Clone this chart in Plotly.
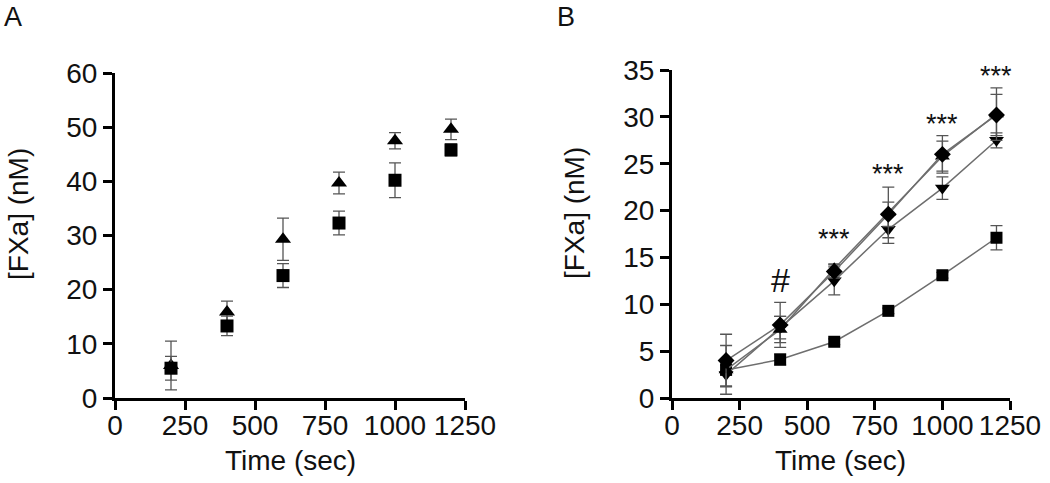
import plotly.graph_objects as go

# ---------------- data ----------------
time_s = [200, 400, 600, 800, 1000, 1200]

# Panel A
a_square = [5.5, 13.3, 22.6, 32.3, 40.2, 45.8]
a_square_err = [2.2, 1.8, 2.2, 2.2, 3.2, 1.1]
a_triangle = [6.0, 15.9, 29.3, 39.7, 47.5, 49.6]
a_triangle_err = [4.5, 2.0, 3.9, 2.0, 1.5, 1.9]

# Panel B
b_square = [3.0, 4.1, 6.0, 9.3, 13.1, 17.1]
b_square_err = [0.5, 0.6, 0.3, 0.3, 0.3, 1.3]
b_up = [3.0, 7.3, 13.8, 19.8, 25.8, 30.3]
b_up_err = [2.6, 1.4, 0.5, 2.7, 1.6, 2.8]
b_diamond = [4.0, 7.8, 13.5, 19.6, 26.0, 30.2]
b_diamond_err = [2.8, 2.4, 0.7, 1.3, 2.0, 2.2]
b_down = [2.5, 7.5, 12.5, 18.0, 22.4, 27.5]
b_down_err = [1.2, 1.2, 1.5, 1.5, 1.2, 0.8]

sig_x = [400, 600, 800, 1000, 1200]
sig_y = [12.6, 17.0, 23.9, 29.2, 34.4]
sig_text = ["#", "***", "***", "***", "***"]

x_ticks = [0, 250, 500, 750, 1000, 1250]
a_y_ticks = [0, 10, 20, 30, 40, 50, 60]
b_y_ticks = [0, 5, 10, 15, 20, 25, 30, 35]

# ---------------- style ----------------
FONT = "Liberation Sans, Arial, sans-serif"
ERR_COL = "#555555"
LINE_COL = "#6e6e6e"
TXT = "#111111"

W, H = 1050, 483


def px_x(p):
    return p / W


def px_y(p):
    return 1 - p / H


fig = go.Figure()


def add_series(x, y, err, symbol, xa, ya, mode, size=13):
    fig.add_trace(go.Scatter(
        x=x, y=y, xaxis=xa, yaxis=ya, mode=mode,
        marker=dict(symbol=symbol, size=size, color="black"),
        line=dict(color=LINE_COL, width=1.5),
        error_y=dict(type="data", array=err, visible=True, color=ERR_COL,
                     thickness=1.3, width=6),
        cliponaxis=False, showlegend=False,
    ))


add_series(time_s, a_triangle, a_triangle_err, "triangle-up", "x", "y", "markers", 14)
add_series(time_s, a_square, a_square_err, "square", "x", "y", "markers", 13)

add_series(time_s, b_square, b_square_err, "square", "x2", "y2", "lines+markers", 12)
add_series(time_s, b_down, b_down_err, "triangle-down", "x2", "y2", "lines+markers", 13)
add_series(time_s, b_up, b_up_err, "triangle-up", "x2", "y2", "lines+markers", 13)
add_series(time_s, b_diamond, b_diamond_err, "diamond", "x2", "y2", "lines+markers", 13)

axis_common = dict(
    showline=True, linecolor="black", linewidth=3,
    ticks="outside", ticklen=9, tickwidth=2.5, tickcolor="black",
    showgrid=False, zeroline=False, automargin=False, tickangle=0,
    tickfont=dict(family=FONT, size=28, color=TXT),
)

fig.update_layout(
    width=W, height=H,
    margin=dict(l=0, r=0, t=0, b=0),
    paper_bgcolor="white", plot_bgcolor="white",
    xaxis=dict(domain=[px_x(115), px_x(465)], range=[0, 1250],
               tickvals=x_ticks, anchor="y", ticklabelstandoff=-9, **axis_common),
    yaxis=dict(domain=[px_y(398), px_y(73)], range=[0, 60],
               tickvals=a_y_ticks, anchor="x", **axis_common),
    xaxis2=dict(domain=[px_x(672), px_x(1010)], range=[0, 1250],
                tickvals=x_ticks, anchor="y2", ticklabelstandoff=-9, **axis_common),
    yaxis2=dict(domain=[px_y(398), px_y(70)], range=[0, 35],
                tickvals=b_y_ticks, anchor="x2", **axis_common),
)

for xv, yv, t in zip(sig_x, sig_y, sig_text):
    fig.add_annotation(x=xv, y=yv, xref="x2", yref="y2", text=t, showarrow=False,
                       font=dict(family=FONT, size=34 if t == "#" else 27, color=TXT))

title_font = dict(family=FONT, size=28, color=TXT)
labels = [
    ("[FXa] (nM)", 18, 214, -90),
    ("[FXa] (nM)", 574, 213, -90),
    ("Time (sec)", 290, 460, 0),
    ("Time (sec)", 840, 460, 0),
]
for t, px, py, ang in labels:
    fig.add_annotation(x=px_x(px), y=px_y(py), xref="paper", yref="paper",
                       text=t, showarrow=False, textangle=ang, font=title_font,
                       xanchor="center", yanchor="middle")

fig.add_annotation(x=px_x(13), y=px_y(17), xref="paper", yref="paper", text="A",
                   showarrow=False, font=dict(family=FONT, size=27, color=TXT),
                   xanchor="center", yanchor="middle")
fig.add_annotation(x=px_x(566), y=px_y(17), xref="paper", yref="paper", text="B",
                   showarrow=False, font=dict(family=FONT, size=27, color=TXT),
                   xanchor="center", yanchor="middle")

fig.write_html("out.html", config={"displayModeBar": False},
               post_script="document.body.style.margin='0px';document.body.style.padding='0px';")
